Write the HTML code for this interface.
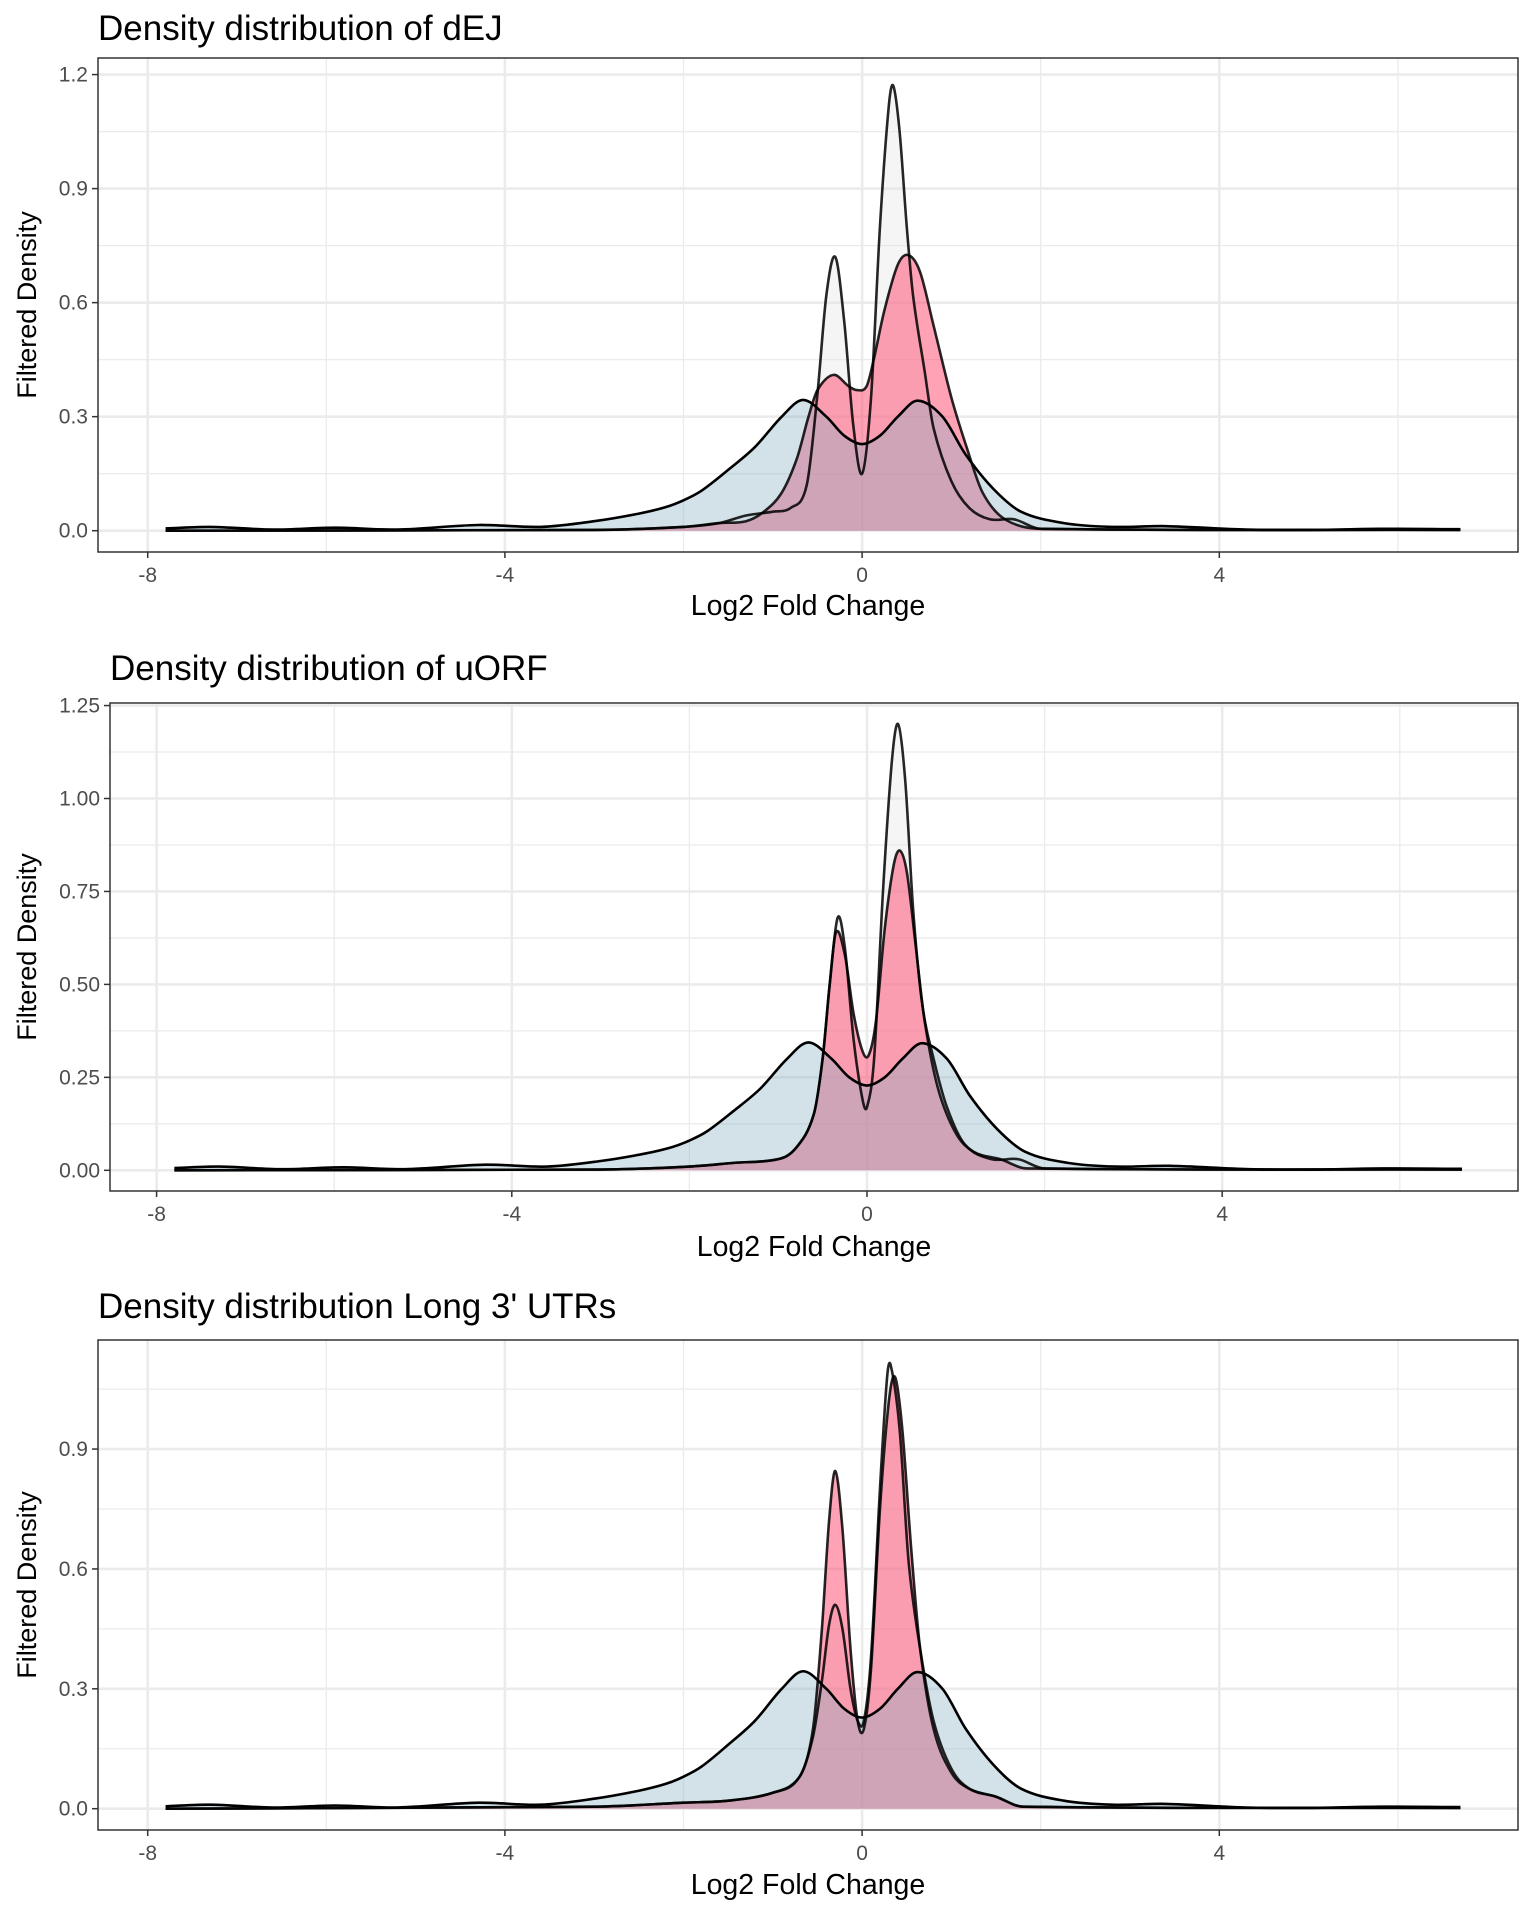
<!DOCTYPE html>
<html><head><meta charset="utf-8"><style>
html,body{margin:0;padding:0;background:#fff;}
svg text{font-family:"Liberation Sans",Arial,sans-serif;}
</style></head><body>
<svg id="chart" width="1536" height="1920" xmlns="http://www.w3.org/2000/svg"></svg>
<script>
// ---------- data ----------
const xTicks = [-8, -4, 0, 4];
const xMinor = [-6, -2, 2, 6];
const titles = ["Density distribution of dEJ", "Density distribution of uORF", "Density distribution Long 3' UTRs"];
const yTicks1 = [0, 0.3, 0.6, 0.9, 1.2];
const yTickLabels1 = ["0.0", "0.3", "0.6", "0.9", "1.2"];
const yTicks2 = [0, 0.25, 0.5, 0.75, 1.0, 1.25];
const yTickLabels2 = ["0.00", "0.25", "0.50", "0.75", "1.00", "1.25"];
const yTicks3 = [0, 0.3, 0.6, 0.9];
const yTickLabels3 = ["0.0", "0.3", "0.6", "0.9"];

const blueX = [-7.8,-7.3,-6.6,-5.9,-5.2,-4.3,-3.6,-3.0,-2.5,-2.2,-2.0,-1.8,-1.5,-1.2,-0.9,-0.66,-0.4,-0.2,0,0.2,0.4,0.62,0.9,1.16,1.47,1.78,2.26,2.8,3.4,4.3,5.0,5.8,6.7];
const blueY = [0.006,0.01,0.003,0.008,0.003,0.015,0.01,0.025,0.045,0.062,0.08,0.105,0.16,0.22,0.3,0.344,0.3,0.25,0.228,0.25,0.3,0.342,0.3,0.2,0.11,0.05,0.02,0.01,0.012,0.003,0.002,0.005,0.004];

const grey1X = [-7.8,-3,-2,-1.6,-1.3,-1.0,-0.8,-0.62,-0.5,-0.4,-0.3,-0.2,-0.1,0,0.1,0.2,0.3,0.35,0.42,0.5,0.57,0.7,0.8,1.0,1.2,1.43,1.7,2.0,6.7];
const grey1Y = [0,0.002,0.01,0.02,0.04,0.05,0.06,0.12,0.36,0.62,0.72,0.55,0.28,0.15,0.35,0.8,1.12,1.17,1.05,0.8,0.62,0.42,0.27,0.13,0.06,0.03,0.03,0.005,0.002];
const pink1X = [-7.8,-3,-2,-1.6,-1.3,-1.1,-0.9,-0.73,-0.6,-0.5,-0.32,-0.15,-0.06,0.05,0.13,0.25,0.4,0.52,0.65,0.8,1.0,1.17,1.35,1.6,2.0,6.7];
const pink1Y = [0,0.002,0.01,0.02,0.025,0.05,0.1,0.19,0.3,0.37,0.41,0.38,0.37,0.38,0.45,0.58,0.7,0.725,0.68,0.54,0.35,0.22,0.1,0.03,0.005,0.002];

const grey2X = [-7.8,-3,-2,-1.5,-1.0,-0.8,-0.6,-0.5,-0.42,-0.33,-0.25,-0.15,-0.05,0,0.08,0.18,0.28,0.35,0.43,0.52,0.62,0.75,0.9,1.1,1.4,1.7,2.0,6.7];
const grey2Y = [0,0.002,0.01,0.02,0.03,0.06,0.15,0.3,0.5,0.68,0.6,0.35,0.19,0.17,0.3,0.75,1.1,1.2,1.05,0.7,0.45,0.3,0.17,0.07,0.03,0.03,0.005,0.002];
const pink2X = [-7.8,-3,-2,-1.5,-1.0,-0.8,-0.6,-0.5,-0.42,-0.35,-0.25,-0.15,-0.05,0.02,0.1,0.2,0.3,0.37,0.45,0.55,0.65,0.8,1.0,1.2,1.5,1.8,6.7];
const pink2Y = [0,0.002,0.01,0.02,0.03,0.06,0.15,0.3,0.5,0.64,0.58,0.42,0.32,0.31,0.4,0.65,0.82,0.86,0.8,0.6,0.4,0.22,0.1,0.05,0.03,0.005,0.002];

const grey3X = [-7.8,-3,-2,-1.5,-1.0,-0.7,-0.55,-0.45,-0.37,-0.3,-0.22,-0.13,-0.05,0.02,0.1,0.2,0.28,0.32,0.42,0.52,0.65,0.8,1.0,1.2,1.5,1.8,6.7];
const grey3Y = [0,0.005,0.015,0.02,0.04,0.08,0.18,0.32,0.46,0.51,0.45,0.3,0.22,0.22,0.38,0.8,1.08,1.11,0.95,0.62,0.4,0.22,0.1,0.05,0.03,0.005,0.002];
const pink3X = [-7.8,-3,-2,-1.5,-1.0,-0.7,-0.55,-0.45,-0.37,-0.3,-0.22,-0.13,-0.05,0.02,0.1,0.2,0.3,0.37,0.45,0.55,0.65,0.8,1.0,1.2,1.5,1.8,6.7];
const pink3Y = [0,0.005,0.015,0.02,0.04,0.08,0.2,0.45,0.72,0.845,0.7,0.4,0.22,0.2,0.35,0.75,1.02,1.08,0.95,0.65,0.4,0.2,0.09,0.05,0.03,0.005,0.002];

// ---------- layout ----------
const NS = "http://www.w3.org/2000/svg";
const svg = document.getElementById("chart");
function el(tag, attrs, parent) {
  const e = document.createElementNS(NS, tag);
  for (const k in attrs) e.setAttribute(k, attrs[k]);
  (parent || svg).appendChild(e);
  return e;
}
const panels = [
  {L:98, R:1518, T:58, B:552, x0px:862.1, xs:89.3, y0px:530.7, ys:380.1, title:titles[0], tx:98, ty:40, xtY:615,
   yT:yTicks1, yL:yTickLabels1, yMinor:[0.15,0.45,0.75,1.05], series:[[grey1X,grey1Y],[pink1X,pink1Y],[blueX,blueY]]},
  {L:110, R:1518, T:703, B:1191, x0px:867, xs:88.8, y0px:1170.3, ys:371.8, title:titles[1], tx:110, ty:680, xtY:1256,
   yT:yTicks2, yL:yTickLabels2, yMinor:[0.125,0.375,0.625,0.875,1.125], series:[[grey2X,grey2Y],[pink2X,pink2Y],[blueX,blueY]]},
  {L:98, R:1518, T:1340, B:1830, x0px:862.1, xs:89.3, y0px:1808.7, ys:399.6, title:titles[2], tx:98, ty:1318, xtY:1894,
   yT:yTicks3, yL:yTickLabels3, yMinor:[0.15,0.45,0.75,1.05], series:[[grey3X,grey3Y],[pink3X,pink3Y],[blueX,blueY]]}
];
const fills = ["rgba(225,225,225,0.35)", "rgba(255,70,110,0.5)", "rgba(140,175,195,0.38)"];
const sNames = ["grey-density", "pink-density", "blue-density"];

function pathFrom(px, py, base) {
  let d = "M" + px[0].toFixed(2) + "," + py[0].toFixed(2);
  const n = px.length;
  for (let i = 0; i < n - 1; i++) {
    const x0 = px[Math.max(i-1,0)], y0 = py[Math.max(i-1,0)];
    const x1 = px[i], y1 = py[i], x2 = px[i+1], y2 = py[i+1];
    const x3 = px[Math.min(i+2,n-1)], y3 = py[Math.min(i+2,n-1)];
    const h = x2 - x1;
    // tangents scaled by local spacing (non-uniform Catmull-Rom)
    const m1 = (y2 - y0) / Math.max(x2 - x0, 1e-6);
    const m2 = (y3 - y1) / Math.max(x3 - x1, 1e-6);
    const c1x = x1 + h/3, c2x = x2 - h/3;
    let c1y = y1 + m1*h/3, c2y = y2 - m2*h/3;
    c1y = Math.min(c1y, base); c2y = Math.min(c2y, base);
    d += " C" + c1x.toFixed(2) + "," + c1y.toFixed(2) + " " + c2x.toFixed(2) + "," + c2y.toFixed(2) + " " + x2.toFixed(2) + "," + y2.toFixed(2);
  }
  return d;
}

panels.forEach((p, pi) => {
  const g = el("g", {});
  
  
  const X = v => p.x0px + v * p.xs;
  const Y = v => p.y0px - v * p.ys;
  const t = el("text", {x:p.tx, y:p.ty, "font-size":35, fill:"#000"}, g);
  t.textContent = p.title;
  
  
  const bg = el("rect", {x:p.L, y:p.T, width:p.R-p.L, height:p.B-p.T, fill:"#fff"}, g);
  
  
  p.yMinor.forEach(v => { const l = el("line", {x1:p.L, x2:p.R, y1:Y(v), y2:Y(v), stroke:"#ebebeb", "stroke-width":1.3}, g);
      });
  xMinor.forEach(v => { const l = el("line", {x1:X(v), x2:X(v), y1:p.T, y2:p.B, stroke:"#ebebeb", "stroke-width":1.3}, g);
      });
  p.yT.forEach(v => { const l = el("line", {x1:p.L, x2:p.R, y1:Y(v), y2:Y(v), stroke:"#ebebeb", "stroke-width":2.6}, g);
      });
  xTicks.forEach(v => { const l = el("line", {x1:X(v), x2:X(v), y1:p.T, y2:p.B, stroke:"#ebebeb", "stroke-width":2.6}, g);
      });
  const lines = [];
  p.series.forEach((s, si) => {
    const px = s[0].map(X), py = s[1].map(Y);
    const base = Y(0);
    const line = pathFrom(px, py, base);
    const area = el("path", {d: line + " L" + px[px.length-1] + "," + base + " L" + px[0] + "," + base + " Z", fill:fills[si], stroke:"none"}, g);
    
    
    lines.push([line, si]);
  });
  lines.forEach(([line, si]) => {
    const ln = el("path", {d: line, fill:"none", stroke:"#000", "stroke-width":2.6, "stroke-linejoin":"round", "stroke-opacity": si === 2 ? 1 : 0.85}, g);
    
    
  });
  const fr = el("rect", {x:p.L, y:p.T, width:p.R-p.L, height:p.B-p.T, fill:"none", stroke:"#333", "stroke-width":1.5}, g);
  
  
  xTicks.forEach(v => {
    const tk = el("line", {x1:X(v), x2:X(v), y1:p.B, y2:p.B+6, stroke:"#333", "stroke-width":1.5}, g);
     
    const lb = el("text", {x:X(v), y:p.B+30, "font-size":21, fill:"#4d4d4d", "text-anchor":"middle"}, g);
    lb.textContent = String(v);
     
  });
  p.yT.forEach((v, i) => {
    const tk = el("line", {x1:p.L-6, x2:p.L, y1:Y(v), y2:Y(v), stroke:"#333", "stroke-width":1.5}, g);
     
    const lb = el("text", {x:p.L-10, y:Y(v)+7, "font-size":21, fill:"#4d4d4d", "text-anchor":"end"}, g);
    lb.textContent = p.yL[i];
     
  });
  const xt = el("text", {x:(p.L+p.R)/2, y:p.xtY, "font-size":28.5, fill:"#000", "text-anchor":"middle"}, g);
  xt.textContent = "Log2 Fold Change";
   
  const cy = (p.T+p.B)/2;
  const yt = el("text", {x:36, y:cy, "font-size":27, fill:"#000", "text-anchor":"middle", transform:"rotate(-90 36 " + cy + ")"}, g);
  yt.textContent = "Filtered Density";
   
});
</script>
</body></html>
